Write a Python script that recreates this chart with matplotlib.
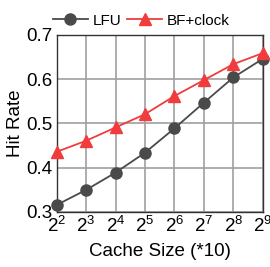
import matplotlib
matplotlib.use('Agg')
import matplotlib.pyplot as plt

plt.rcParams['font.family'] = ['Liberation Sans', 'DejaVu Sans']
plt.rcParams['mathtext.fontset'] = 'custom'
plt.rcParams['mathtext.rm'] = 'Liberation Sans'
plt.rcParams['mathtext.it'] = 'Liberation Sans'

cache_sizes = [4, 8, 16, 32, 64, 128, 256, 512]
tick_labels = ['$2^{%d}$' % k for k in range(2, 10)]
lfu = [0.316, 0.350, 0.389, 0.434, 0.489, 0.547, 0.604, 0.646]
bf_clock = [0.436, 0.461, 0.491, 0.521, 0.562, 0.598, 0.634, 0.659]

fig = plt.figure(figsize=(2.70, 2.67), dpi=100)
ax = fig.add_axes([0.21, 0.206, 0.763, 0.663])

ax.plot(cache_sizes, lfu, color='#4a4a4a', marker='o', markersize=8,
        linewidth=1.3, label='LFU', clip_on=False, zorder=3)
ax.plot(cache_sizes, bf_clock, color='#f03c3c', marker='^', markersize=8.5,
        linewidth=1.3, label='BF+clock', clip_on=False, zorder=3)

ax.set_xscale('log', base=2)
ax.set_xlim(4, 512)
ax.set_ylim(0.3, 0.7)
ax.set_xticks(cache_sizes)
ax.set_xticklabels(tick_labels)
ax.set_yticks([0.3, 0.4, 0.5, 0.6, 0.7])
ax.set_yticklabels(['0.3', '0.4', '0.5', '0.6', '0.7'])
ax.minorticks_off()
ax.tick_params(labelsize=13.5, length=0, pad=3)
ax.grid(True, color='#a0a0a0', linewidth=1.2)
ax.set_axisbelow(True)
for s in ax.spines.values():
    s.set_color('#333333')
    s.set_linewidth(1.0)

ax.set_xlabel('Cache Size (*10)', fontsize=13.5, labelpad=5)
ax.set_ylabel('Hit Rate', fontsize=13.5, labelpad=2)

ax.legend(loc='lower center', bbox_to_anchor=(0.41, 0.99), ncol=2, frameon=False,
          fontsize=11, handlelength=2.3, columnspacing=0.4, handletextpad=0.3,
          borderpad=0.1)

fig.savefig('out.png', dpi=100)
